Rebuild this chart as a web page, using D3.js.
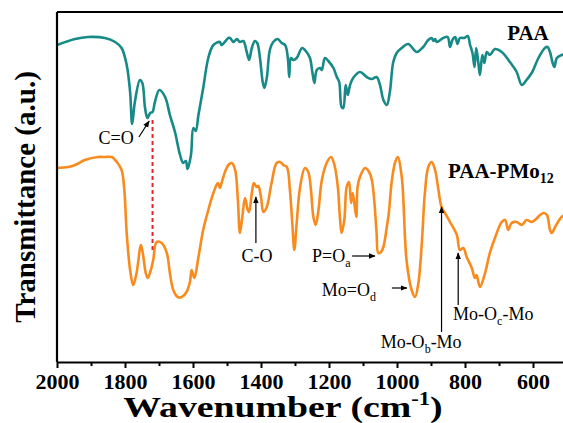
<!DOCTYPE html>
<html>
<head>
<meta charset="utf-8">
<script src="https://cdn.jsdelivr.net/npm/d3@7"></script>
<style>
  body { margin: 0; background: #fff; }
  svg { display: block; }
</style>
</head>
<body>
<div id="chart"></div>
<script>
// wavenumber (cm-1) and transmittance (a.u.)
const paaWave = [2000,1947,1909,1859,1829,1810,1795,1785,1779,1771,1756,1749,1741,1734,1726,1719,1712,1699,1682,1668,1653,1638,1629,1621,1616,1606,1599,1592,1584,1570,1555,1540,1521,1516,1496,1491,1481,1471,1462,1452,1442,1435,1427,1418,1411,1403,1395,1390,1383,1374,1364,1351,1339,1329,1321,1317,1312,1305,1295,1279,1266,1256,1249,1243,1236,1226,1221,1212,1202,1187,1177,1170,1163,1158,1151,1145,1138,1129,1109,1089,1074,1060,1050,1040,1030,1021,1011,1001,986,967,942,923,908,898,893,888,883,864,851,844,837,829,822,815,802,792,785,778,772,767,761,756,749,743,736,727,712,692,668,648,633,619,604,584,565,557,550,543,537,530,516,500]
const paaT    = [317,323,325,324,320,314,297,270,238,260,282,279,254,244,249,250,260,272,265,247,230,207,199,201,193,207,234,231,247,274,304,317,320,317,324,324,320,323,320,321,310,302,314,321,319,304,280,274,284,312,320,323,319,317,304,285,304,302,304,314,310,304,290,279,292,294,292,304,301,294,285,280,255,254,277,267,277,284,290,285,283,285,277,262,257,270,300,309,314,318,310,315,322,324,321,323,320,324,325,315,322,325,318,324,324,326,317,309,295,314,300,287,307,299,310,307,313,310,300,290,277,282,289,304,314,315,310,300,295,304,307,308]

const pmoWave = [2000,1967,1947,1918,1879,1859,1839,1824,1810,1802,1795,1785,1776,1766,1753,1746,1739,1733,1724,1717,1707,1692,1677,1668,1658,1645,1633,1619,1609,1604,1596,1584,1570,1555,1540,1527,1521,1516,1506,1496,1486,1476,1468,1462,1455,1447,1439,1435,1427,1421,1413,1408,1400,1393,1383,1369,1354,1344,1334,1324,1315,1308,1302,1295,1285,1271,1261,1253,1246,1239,1231,1221,1207,1194,1184,1174,1168,1163,1155,1148,1141,1135,1130,1120,1116,1109,1094,1082,1074,1067,1060,1055,1047,1040,1030,1024,1016,1006,998,986,972,957,947,937,927,918,908,898,888,879,869,859,844,824,815,805,795,780,771,766,756,741,727,712,692,682,673,663,648,633,619,604,594,579,569,559,550,545,535,516,500]
const pmoT    = [194,195,197,202,205,205,205,200,192,172,129,92,77,89,117,105,89,84,92,102,120,119,109,89,72,65,65,70,80,92,84,105,132,152,169,179,174,179,190,197,199,192,162,129,145,164,152,150,169,179,175,176,165,150,155,179,199,200,197,195,172,139,112,139,175,194,190,172,145,137,152,182,199,205,197,175,145,129,142,175,180,159,169,145,175,185,194,190,182,162,129,109,110,115,135,149,179,199,205,185,102,72,65,79,119,169,195,200,192,174,155,149,140,127,112,114,105,94,84,87,75,89,109,124,140,142,132,139,140,137,142,140,142,147,149,147,132,129,135,145,148]

const xTicks = [2000,1800,1600,1400,1200,1000,800,600]
const xMinor = [1900,1700,1500,1300,1100,900,700,500]

// arrows: x in cm-1, y from / to in a.u.
const vArrows = [
  {w: 1415, from: 119, to: 165},
  {w: 869, from: 30, to: 155},
  {w: 820, from: 57, to: 109}
]
const hArrows = [
  {v: 106, from: 1132, to: 1065},
  {v: 74, from: 1015, to: 971}
]

const width = 563
const height = 423

const x = d3.scaleLinear().domain([2000, 400]).range([57, 601])
const y = d3.scaleLinear().domain([0, 350]).range([362, 12])

const svg = d3.select("#chart")
    .append("svg")
    .attr("width", width)
    .attr("height", height)
    .style("font-family", "'Liberation Serif', 'Times New Roman', serif")

svg.append("defs").append("marker")
    .attr("id", "head")
    .attr("viewBox", "0 0 10 10")
    .attr("refX", 9).attr("refY", 5)
    .attr("markerWidth", 7).attr("markerHeight", 7)
    .attr("markerUnits", "userSpaceOnUse")
    .attr("orient", "auto")
  .append("path")
    .attr("d", "M0,1 L10,5 L0,9 Z")
    .attr("fill", "#000")

const line = d3.line()
    .x(d => x(d[0]))
    .y(d => y(d[1]))
    .curve(d3.curveCatmullRom.alpha(0.5))

svg.append("path")
    .datum(paaWave.map((w, i) => [w, paaT[i]]))
    .attr("d", line)
    .attr("fill", "none")
    .attr("stroke", "#178A87")
    .attr("stroke-width", 2.6)
    .attr("stroke-linejoin", "round")

svg.append("path")
    .datum(pmoWave.map((w, i) => [w, pmoT[i]]))
    .attr("d", line)
    .attr("fill", "none")
    .attr("stroke", "#F98B1E")
    .attr("stroke-width", 2.6)
    .attr("stroke-linejoin", "round")

// red dashed guide for C=O
svg.append("line")
    .attr("x1", x(1719)).attr("x2", x(1719))
    .attr("y1", y(242)).attr("y2", y(112))
    .attr("stroke", "#E8242C")
    .attr("stroke-width", 2)
    .attr("stroke-dasharray", "4,3")

// axes
svg.append("g")
    .attr("transform", `translate(0,${y(0)})`)
    .call(d3.axisBottom(x).tickValues(xMinor).tickSize(4).tickFormat(""))
    .call(g => g.select(".domain").remove())
    .call(g => g.selectAll("line").attr("stroke-width", 2))

const xAxis = svg.append("g")
    .attr("transform", `translate(0,${y(0)})`)
    .call(d3.axisBottom(x).tickValues(xTicks).tickFormat(d3.format("d"))
        .tickSize(6).tickSizeOuter(0).tickPadding(7))
xAxis.select(".domain").attr("stroke-width", 2.2)
xAxis.selectAll("line").attr("stroke-width", 2)
xAxis.selectAll("text")
    .attr("font-family", "'Liberation Serif', serif")
    .attr("font-size", 20)
    .attr("font-weight", "bold")
    .attr("fill", "#000")
    .attr("transform", "scale(1.1,1)")

svg.append("line")
    .attr("x1", x(2000)).attr("x2", x(2000))
    .attr("y1", y(0)).attr("y2", y(350))
    .attr("stroke", "#000").attr("stroke-width", 2.2)
svg.append("line")
    .attr("x1", x(2000)).attr("x2", x(400))
    .attr("y1", y(350)).attr("y2", y(350))
    .attr("stroke", "#000").attr("stroke-width", 2.2)

// axis titles
const xt = svg.append("text")
    .attr("transform", "translate(283,417) scale(1.26,1)")
    .attr("text-anchor", "middle")
    .attr("font-size", 30)
    .attr("font-weight", "bold")
xt.append("tspan").text("Wavenumber (cm")
xt.append("tspan").attr("font-size", 18).attr("dy", -12).text("-1")
xt.append("tspan").attr("dy", 12).text(")")

svg.append("text")
    .attr("transform", "translate(35,197) rotate(-90)")
    .attr("text-anchor", "middle")
    .attr("font-size", 29)
    .attr("font-weight", "bold")
    .text("Transmittance (a.u.)")

// series labels
svg.append("text")
    .attr("x", x(676)).attr("y", y(322))
    .attr("font-size", 21).attr("font-weight", "bold")
    .text("PAA")

const pl = svg.append("text")
    .attr("x", x(850)).attr("y", y(184))
    .attr("font-size", 21).attr("font-weight", "bold")
pl.append("tspan").text("PAA-PMo")
pl.append("tspan").attr("font-size", 14).attr("dy", 5).text("12")

// annotations
const ann = svg.append("g").attr("font-size", 18).attr("fill", "#000")

ann.append("text").attr("x", x(1826)).attr("y", y(218))
    .attr("text-anchor", "middle").text("C=O")
ann.append("line")
    .attr("x1", x(1759)).attr("y1", y(225))
    .attr("x2", x(1729)).attr("y2", y(241))
    .attr("stroke", "#000").attr("stroke-width", 1.2)
    .attr("marker-end", "url(#head)")

ann.append("text").attr("x", x(1412)).attr("y", y(100))
    .attr("text-anchor", "middle").text("C-O")

const po = ann.append("text").attr("x", x(1250)).attr("y", y(100))
po.append("tspan").text("P=O")
po.append("tspan").attr("font-size", 12).attr("dy", 5).text("a")

const mod = ann.append("text").attr("x", x(1221)).attr("y", y(66))
mod.append("tspan").text("Mo=O")
mod.append("tspan").attr("font-size", 12).attr("dy", 5).text("d")

const mob = ann.append("text").attr("x", x(929)).attr("y", y(14)).attr("text-anchor", "middle")
mob.append("tspan").text("Mo-O")
mob.append("tspan").attr("font-size", 12).attr("dy", 5).text("b")
mob.append("tspan").attr("dy", -5).text("-Mo")

const moc = ann.append("text").attr("x", x(835)).attr("y", y(42))
moc.append("tspan").text("Mo-O")
moc.append("tspan").attr("font-size", 12).attr("dy", 5).text("c")
moc.append("tspan").attr("dy", -5).text("-Mo")

ann.selectAll(".va")
    .data(vArrows)
    .join("line")
    .attr("class", "va")
    .attr("x1", d => x(d.w)).attr("x2", d => x(d.w))
    .attr("y1", d => y(d.from)).attr("y2", d => y(d.to))
    .attr("stroke", "#000").attr("stroke-width", 1.2)
    .attr("marker-end", "url(#head)")

ann.selectAll(".ha")
    .data(hArrows)
    .join("line")
    .attr("class", "ha")
    .attr("x1", d => x(d.from)).attr("x2", d => x(d.to))
    .attr("y1", d => y(d.v)).attr("y2", d => y(d.v))
    .attr("stroke", "#000").attr("stroke-width", 1.2)
    .attr("marker-end", "url(#head)")
</script>
</body>
</html>
